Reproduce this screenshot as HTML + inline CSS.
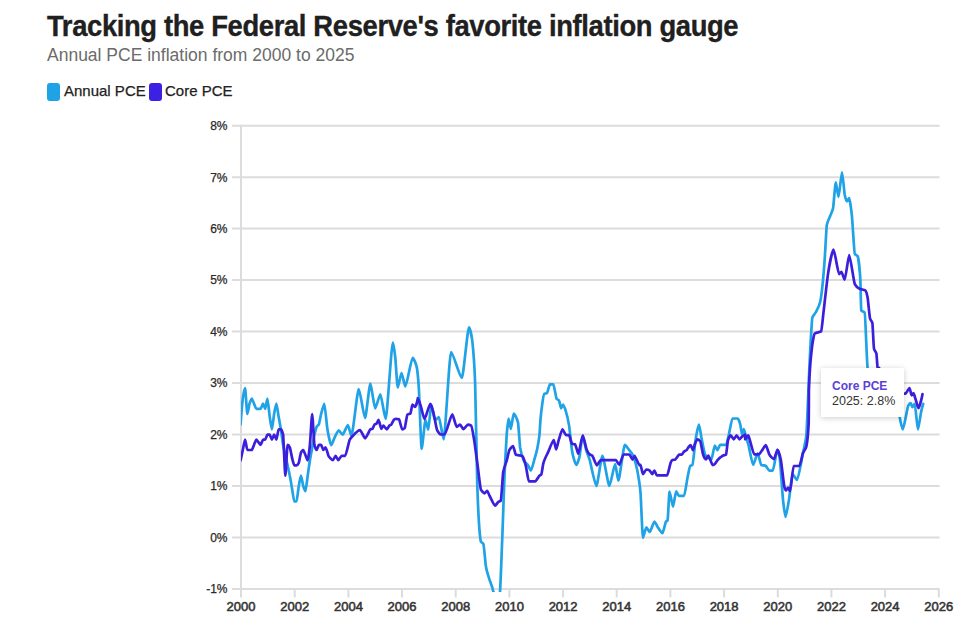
<!DOCTYPE html>
<html><head><meta charset="utf-8">
<style>
html,body{margin:0;padding:0;background:#fff;}
body{width:973px;height:626px;overflow:hidden;position:relative;font-family:"Liberation Sans",sans-serif;}
.title{position:absolute;left:47px;top:8.5px;font-size:29.5px;font-weight:bold;color:#202020;letter-spacing:-0.4px;-webkit-text-stroke:0.35px #202020;white-space:nowrap;transform:scaleX(0.929);transform-origin:0 0;}
.sub{position:absolute;left:47px;top:45px;font-size:17.5px;color:#6b6b6b;white-space:nowrap;}
.leg{position:absolute;top:82px;font-size:15px;color:#222;white-space:nowrap;-webkit-text-stroke:0.25px #222;}
.sw{position:absolute;top:83px;width:13px;height:18px;border-radius:3px;}
svg{position:absolute;left:0;top:0;}
.tip{position:absolute;left:821px;top:368px;width:83px;height:49px;background:#fff;box-shadow:0 1px 6px rgba(0,0,0,0.2);}
.tip .a{position:absolute;left:11px;top:11px;font-size:12px;font-weight:bold;color:#5b41d6;white-space:nowrap;}
.tip .b{position:absolute;left:11px;top:26px;font-size:12.5px;color:#333;white-space:nowrap;}
</style></head><body>
<div class="title">Tracking the Federal Reserve's favorite inflation gauge</div>
<div class="sub">Annual PCE inflation from 2000 to 2025</div>
<div class="sw" style="left:47px;background:#1fa2e6"></div>
<div class="leg" style="left:64px">Annual PCE</div>
<div class="sw" style="left:149px;background:#3c20e4"></div>
<div class="leg" style="left:165px">Core PCE</div>
<svg width="973" height="626" viewBox="0 0 973 626">
<g stroke="#dcdcdc" stroke-width="2" fill="none">
<line x1="232" x2="939.5" y1="589.0" y2="589.0"/>
<line x1="232" x2="939.5" y1="537.5" y2="537.5"/>
<line x1="232" x2="939.5" y1="486.0" y2="486.0"/>
<line x1="232" x2="939.5" y1="434.6" y2="434.6"/>
<line x1="232" x2="939.5" y1="383.1" y2="383.1"/>
<line x1="232" x2="939.5" y1="331.6" y2="331.6"/>
<line x1="232" x2="939.5" y1="280.1" y2="280.1"/>
<line x1="232" x2="939.5" y1="228.6" y2="228.6"/>
<line x1="232" x2="939.5" y1="177.2" y2="177.2"/>
<line x1="232" x2="939.5" y1="125.7" y2="125.7"/>
<line x1="241" x2="241" y1="124.7" y2="597.5"/>
<line x1="294.7" x2="294.7" y1="589.0" y2="597.5"/>
<line x1="348.4" x2="348.4" y1="589.0" y2="597.5"/>
<line x1="402.0" x2="402.0" y1="589.0" y2="597.5"/>
<line x1="455.7" x2="455.7" y1="589.0" y2="597.5"/>
<line x1="509.4" x2="509.4" y1="589.0" y2="597.5"/>
<line x1="563.1" x2="563.1" y1="589.0" y2="597.5"/>
<line x1="616.7" x2="616.7" y1="589.0" y2="597.5"/>
<line x1="670.4" x2="670.4" y1="589.0" y2="597.5"/>
<line x1="724.1" x2="724.1" y1="589.0" y2="597.5"/>
<line x1="777.8" x2="777.8" y1="589.0" y2="597.5"/>
<line x1="831.4" x2="831.4" y1="589.0" y2="597.5"/>
<line x1="885.1" x2="885.1" y1="589.0" y2="597.5"/>
<line x1="938.8" x2="938.8" y1="589.0" y2="597.5"/>
</g>
<g font-family="Liberation Sans" font-size="12" fill="#2a2a2a" stroke="#2a2a2a" stroke-width="0.25">
<text x="227.5" y="593.3" text-anchor="end">-1%</text>
<text x="227.5" y="541.8" text-anchor="end">0%</text>
<text x="227.5" y="490.3" text-anchor="end">1%</text>
<text x="227.5" y="438.9" text-anchor="end">2%</text>
<text x="227.5" y="387.4" text-anchor="end">3%</text>
<text x="227.5" y="335.9" text-anchor="end">4%</text>
<text x="227.5" y="284.4" text-anchor="end">5%</text>
<text x="227.5" y="232.9" text-anchor="end">6%</text>
<text x="227.5" y="181.5" text-anchor="end">7%</text>
<text x="227.5" y="130.0" text-anchor="end">8%</text>
<text x="241.0" y="611" text-anchor="middle" font-size="13" fill="#333" stroke="#333" stroke-width="0.55">2000</text>
<text x="294.7" y="611" text-anchor="middle" font-size="13" fill="#333" stroke="#333" stroke-width="0.55">2002</text>
<text x="348.4" y="611" text-anchor="middle" font-size="13" fill="#333" stroke="#333" stroke-width="0.55">2004</text>
<text x="402.0" y="611" text-anchor="middle" font-size="13" fill="#333" stroke="#333" stroke-width="0.55">2006</text>
<text x="455.7" y="611" text-anchor="middle" font-size="13" fill="#333" stroke="#333" stroke-width="0.55">2008</text>
<text x="509.4" y="611" text-anchor="middle" font-size="13" fill="#333" stroke="#333" stroke-width="0.55">2010</text>
<text x="563.1" y="611" text-anchor="middle" font-size="13" fill="#333" stroke="#333" stroke-width="0.55">2012</text>
<text x="616.7" y="611" text-anchor="middle" font-size="13" fill="#333" stroke="#333" stroke-width="0.55">2014</text>
<text x="670.4" y="611" text-anchor="middle" font-size="13" fill="#333" stroke="#333" stroke-width="0.55">2016</text>
<text x="724.1" y="611" text-anchor="middle" font-size="13" fill="#333" stroke="#333" stroke-width="0.55">2018</text>
<text x="777.8" y="611" text-anchor="middle" font-size="13" fill="#333" stroke="#333" stroke-width="0.55">2020</text>
<text x="831.4" y="611" text-anchor="middle" font-size="13" fill="#333" stroke="#333" stroke-width="0.55">2022</text>
<text x="885.1" y="611" text-anchor="middle" font-size="13" fill="#333" stroke="#333" stroke-width="0.55">2024</text>
<text x="938.8" y="611" text-anchor="middle" font-size="13" fill="#333" stroke="#333" stroke-width="0.55">2026</text>
</g>
<defs><clipPath id="cp"><rect x="241" y="100" width="700" height="492"/></clipPath></defs>
<g fill="none" stroke-width="2.7" stroke-linejoin="round" stroke-linecap="round" clip-path="url(#cp)">
<path stroke="#1fa2e6" d="M240.6,424.3C241.0,418.3 242.4,402.1 242.8,398.5C243.3,394.9 244.6,388.2 245.1,388.2C245.5,388.2 246.9,414.0 247.3,414.0C247.8,414.0 249.1,405.2 249.5,403.7C250.0,402.1 251.3,398.5 251.8,398.5C252.2,398.5 253.6,402.6 254.0,403.7C254.5,404.7 255.8,408.8 256.3,408.8C256.7,408.8 258.0,408.8 258.5,408.8C258.9,408.8 260.3,408.8 260.7,408.8C261.2,408.8 262.5,403.7 263.0,403.7C263.4,403.7 264.8,408.8 265.2,408.8C265.6,408.8 267.0,398.5 267.4,398.5C267.9,398.5 269.2,413.5 269.7,416.5C270.1,419.6 271.5,429.4 271.9,429.4C272.4,429.4 273.7,416.5 274.1,414.0C274.6,411.4 275.9,403.7 276.4,403.7C276.8,403.7 278.2,414.0 278.6,416.5C279.1,419.1 280.4,426.6 280.9,429.4C281.3,432.2 282.6,442.3 283.1,444.9C283.5,447.4 284.9,453.1 285.3,455.2C285.8,457.2 287.1,463.4 287.6,465.4C288.0,467.5 289.4,473.4 289.8,475.7C290.3,478.1 291.6,486.0 292.0,488.6C292.5,491.2 293.8,501.5 294.3,501.5C294.7,501.5 296.1,501.5 296.5,501.5C297.0,501.5 298.3,488.6 298.8,486.0C299.2,483.5 300.5,475.7 301.0,475.7C301.4,475.7 302.8,484.5 303.2,486.0C303.7,487.6 305.0,491.2 305.5,491.2C305.9,491.2 307.2,478.8 307.7,475.7C308.1,472.7 309.5,463.1 309.9,460.3C310.4,457.5 311.7,450.0 312.2,447.4C312.6,444.9 314.0,436.6 314.4,434.6C314.9,432.5 316.2,427.9 316.6,426.8C317.1,425.8 318.4,425.3 318.9,424.3C319.3,423.2 320.7,415.8 321.1,414.0C321.8,411.4 323.7,403.8 324.3,403.8C324.9,403.8 326.6,423.7 327.2,427.6C328.0,432.9 330.4,445.2 331.2,445.2C331.9,445.2 334.0,438.7 334.7,437.3C335.5,435.7 337.9,430.3 338.7,430.3C339.5,430.3 341.8,434.7 342.6,434.7C343.7,434.7 346.8,425.0 347.9,425.0C348.6,425.0 350.7,435.6 351.4,435.6C352.9,435.6 357.3,389.0 358.8,389.0C360.0,389.0 363.8,418.0 365.1,418.0C366.1,418.0 369.3,383.7 370.4,383.7C371.3,383.7 374.2,408.3 375.1,408.3C376.2,408.3 379.3,394.3 380.4,394.3C381.4,394.3 384.6,418.9 385.7,418.9C387.1,418.9 391.4,342.5 392.9,342.5C393.4,342.5 394.9,353.9 395.4,358.8C395.8,363.2 397.2,387.5 397.7,387.5C398.4,387.5 400.7,373.1 401.5,373.1C402.3,373.1 404.6,386.5 405.3,386.5C406.8,386.5 411.2,357.8 412.6,357.8C413.5,357.8 416.0,363.5 416.8,367.4C417.2,369.1 418.4,381.8 418.8,387.5C419.3,396.0 421.1,448.8 421.6,448.8C422.4,448.8 424.7,420.1 425.5,420.1C426.0,420.1 427.8,429.7 428.3,429.7C428.9,429.7 430.6,404.8 431.2,404.8C432.0,404.8 434.3,420.1 435.0,420.1C435.8,420.1 438.1,417.2 438.9,417.2C439.8,417.2 442.7,439.3 443.7,439.3C445.1,439.3 449.5,352.0 451.0,352.0C453.1,352.0 459.7,377.9 461.9,377.9C463.3,377.9 467.6,327.3 469.0,327.3C469.7,327.3 471.7,336.0 472.4,341.8C472.9,346.5 474.5,366.0 475.1,382.1C475.5,395.2 476.8,467.5 477.2,482.1C477.6,495.4 478.8,520.7 479.2,526.7C479.6,531.9 480.6,540.9 480.9,541.6C481.4,542.5 482.9,543.0 483.4,544.0C483.9,545.0 485.4,562.9 485.9,566.3C486.6,571.4 488.9,577.4 489.6,579.9C490.4,582.5 492.6,587.0 493.3,591.6C493.8,594.4 495.1,609.6 495.6,609.6C496.0,609.6 497.4,606.2 497.8,604.4C498.2,602.6 499.6,596.7 500.0,591.6C500.5,586.4 501.8,549.1 502.3,537.5C502.7,525.9 504.1,486.0 504.5,475.7C505.0,465.4 506.3,440.4 506.7,434.6C507.1,429.7 508.3,418.7 508.6,418.7C509.1,418.7 510.4,428.8 510.8,428.8C511.4,428.8 513.1,413.7 513.7,413.7C514.5,413.7 517.1,418.8 518.0,422.3C518.4,424.0 519.7,444.4 520.1,447.5C520.9,452.7 523.0,458.8 523.7,460.4C524.6,462.4 527.2,464.2 528.1,465.5C528.6,466.3 530.4,470.5 530.9,470.5C531.7,470.5 533.8,461.5 534.5,459.0C535.1,457.1 536.7,451.5 537.3,448.6C537.7,446.1 539.1,439.3 539.6,433.3C539.7,431.3 540.2,423.9 540.3,421.8C541.1,411.0 543.4,394.5 544.2,394.0C544.7,393.6 546.5,393.4 547.0,393.0C547.6,392.6 549.3,384.4 549.9,384.4C550.6,384.4 552.7,384.4 553.4,384.4C554.0,384.4 556.0,397.7 556.6,398.8C557.1,399.5 558.6,399.9 559.1,400.7C559.5,401.3 560.7,408.3 561.0,408.3C561.4,408.3 562.6,404.5 563.0,404.5C563.4,404.5 564.8,408.0 565.3,409.3C566.0,411.5 568.3,420.4 569.1,425.6C569.7,429.5 571.4,446.8 572.0,450.5C572.8,456.3 575.5,464.9 576.4,464.9C577.0,464.9 579.0,459.5 579.6,456.3C580.2,453.4 581.9,436.1 582.5,436.1C583.3,436.1 585.6,448.2 586.4,450.7C587.0,452.8 589.0,457.6 589.6,459.6C590.9,463.9 595.0,485.9 596.4,485.9C597.6,485.9 601.2,455.8 602.4,455.8C603.8,455.8 608.0,485.9 609.4,485.9C610.6,485.9 614.0,464.1 615.2,464.1C615.8,464.1 617.7,480.7 618.4,480.7C619.6,480.7 623.5,444.9 624.8,444.9C625.6,444.9 628.1,448.7 629.0,449.8C629.7,450.7 631.7,452.9 632.4,454.4C633.4,456.4 636.1,464.7 637.1,469.5C637.8,473.1 639.8,483.4 640.5,492.7C641.0,498.8 642.4,537.8 642.9,537.8C643.5,537.8 645.6,527.4 646.3,527.4C647.0,527.4 649.1,532.0 649.8,532.0C650.7,532.0 653.5,521.6 654.4,521.6C655.1,521.6 657.2,526.4 657.9,527.4C658.8,528.8 661.6,533.2 662.5,533.2C663.2,533.2 665.3,522.6 666.0,521.6C666.3,521.1 667.3,520.9 667.6,520.5C668.0,519.9 669.1,491.5 669.5,491.5C670.2,491.5 672.3,506.6 673.0,506.6C673.6,506.6 675.5,491.4 676.2,491.4C676.7,491.4 678.3,495.8 678.8,495.8C679.8,495.8 683.0,495.8 684.1,495.8C684.8,495.8 686.9,480.6 687.6,477.3C688.1,474.8 689.7,466.3 690.2,465.9C690.7,465.5 692.0,465.4 692.5,465.0C693.1,464.6 694.9,444.3 695.5,440.4C696.2,435.8 698.3,424.6 699.0,424.6C699.5,424.6 701.1,436.0 701.6,438.7C702.3,442.2 704.4,453.1 705.1,454.5C705.8,455.9 708.0,457.4 708.7,458.0C709.2,458.4 710.8,459.7 711.3,459.7C712.0,459.7 714.1,445.7 714.8,445.7C715.3,445.7 716.9,450.1 717.4,450.1C718.0,450.1 719.6,444.8 720.1,444.8C721.3,444.8 725.0,444.8 726.2,444.8C726.8,444.8 728.3,436.5 728.9,434.3C729.6,431.3 731.7,418.5 732.4,418.5C733.4,418.5 736.6,418.5 737.7,418.5C738.2,418.5 739.8,422.4 740.3,424.6C740.6,426.1 741.7,434.3 742.0,434.3C742.4,434.3 743.4,429.0 743.8,429.0C744.3,429.0 745.9,435.9 746.4,437.8C746.8,439.2 748.1,443.6 748.5,445.2C749.4,448.7 752.2,464.9 753.1,464.9C754.0,464.9 756.8,453.3 757.7,453.3C758.4,453.3 760.5,464.5 761.2,464.9C762.1,465.3 764.9,465.6 765.8,466.0C766.5,466.4 768.6,470.7 769.3,470.7C770.0,470.7 772.1,470.7 772.8,470.7C773.7,470.7 776.5,449.8 777.4,449.8C777.9,449.8 779.3,454.7 779.7,457.9C780.4,462.8 782.5,495.7 783.2,501.9C783.7,506.1 785.1,517.0 785.5,517.0C786.2,517.0 788.3,503.9 789.0,499.6C789.7,495.3 791.8,474.1 792.5,474.1C793.4,474.1 796.2,479.9 797.1,479.9C798.3,479.9 801.8,459.1 802.9,453.3C803.6,449.8 805.7,442.2 806.4,434.7C807.0,428.3 808.8,379.6 809.4,367.1C809.6,362.5 810.3,348.8 810.5,344.7C810.9,338.3 811.9,319.1 812.3,317.9C813.0,315.7 815.0,313.6 815.7,312.4C816.6,310.7 819.2,306.3 820.1,302.3C821.0,298.3 823.7,273.0 824.6,260.6C825.1,254.5 826.4,227.2 826.8,224.9C827.5,221.3 829.5,217.7 830.2,215.9C830.8,214.4 832.5,211.2 833.1,208.1C833.6,205.2 835.2,182.4 835.8,182.4C836.3,182.4 837.9,196.9 838.5,196.9C839.2,196.9 841.3,172.3 842.0,172.3C842.6,172.3 844.2,191.8 844.7,194.7C845.2,197.1 846.5,201.4 847.0,201.4C847.4,201.4 848.8,198.0 849.2,198.0C849.7,198.0 851.4,210.7 851.9,215.9C852.5,221.6 854.2,253.0 854.8,253.9C855.4,254.8 857.1,255.3 857.7,256.2C858.2,257.0 859.8,270.5 860.4,280.0C860.5,282.8 861.0,310.1 861.2,310.4C861.9,311.3 864.0,311.8 864.7,312.7C865.3,313.5 867.0,365.6 867.6,367.9C869.7,376.0 875.9,380.1 878.0,388.2C878.5,390.0 879.8,397.0 880.2,398.5C880.7,400.1 882.0,402.6 882.5,403.7C882.9,404.7 884.3,408.8 884.7,408.8C885.2,408.8 886.5,408.8 887.0,408.8C887.4,408.8 888.7,398.5 889.2,398.5C889.6,398.5 891.0,398.5 891.4,398.5C891.9,398.5 893.2,402.6 893.7,403.7C894.1,404.7 895.5,408.8 895.9,408.8C896.4,408.8 897.7,408.8 898.1,408.8C898.4,408.8 899.3,415.2 899.6,416.7C900.2,419.9 902.1,429.5 902.7,429.5C903.9,429.5 907.2,407.7 908.3,405.5C908.8,404.5 910.3,403.1 910.7,403.1C911.1,403.1 912.0,407.1 912.3,407.1C912.8,407.1 914.2,403.9 914.7,403.9C915.4,403.9 917.3,429.5 917.9,429.5C918.6,429.5 920.5,414.8 921.1,411.9C921.5,410.0 922.8,405.4 923.2,403.9"/>
<path stroke="#3b1fdc" d="M240.6,460.3C241.0,458.2 242.4,452.1 242.8,450.0C243.3,447.9 244.6,439.7 245.1,439.7C245.5,439.7 246.9,450.0 247.3,450.0C247.8,450.0 249.1,450.0 249.5,450.0C250.0,450.0 251.3,450.0 251.8,450.0C252.2,450.0 253.6,445.9 254.0,444.9C254.5,443.8 255.8,439.7 256.3,439.7C256.7,439.7 258.0,441.8 258.5,442.3C258.9,442.8 260.3,444.9 260.7,444.9C261.2,444.9 262.5,439.7 263.0,439.7C263.4,439.7 264.8,439.7 265.2,439.7C265.6,439.7 267.0,434.6 267.4,434.6C267.9,434.6 269.2,434.6 269.7,434.6C270.1,434.6 271.5,439.7 271.9,439.7C272.4,439.7 273.7,434.6 274.1,434.6C274.6,434.6 275.9,439.7 276.4,439.7C276.8,439.7 278.2,429.4 278.6,429.4C279.1,429.4 280.4,429.4 280.9,429.4C281.3,429.4 282.6,432.5 283.1,434.6C283.5,436.6 284.9,475.7 285.3,475.7C285.8,475.7 287.1,444.9 287.6,444.9C288.0,444.9 289.4,446.4 289.8,447.4C290.3,448.5 291.6,455.9 292.0,457.7C292.5,459.5 293.8,465.4 294.3,465.4C294.7,465.4 296.1,465.4 296.5,465.4C297.0,465.4 298.3,463.9 298.8,462.9C299.2,461.8 300.5,453.6 301.0,452.6C301.4,451.5 302.8,450.0 303.2,450.0C303.7,450.0 305.0,454.1 305.5,455.2C305.9,456.2 307.2,460.3 307.7,460.3C308.1,460.3 309.5,449.5 309.9,444.9C310.4,440.2 311.7,414.0 312.2,414.0C312.6,414.0 314.0,442.8 314.4,444.9C314.9,446.9 316.2,450.0 316.6,450.0C317.1,450.0 318.4,444.9 318.9,444.9C319.3,444.9 320.7,444.9 321.1,444.9C321.6,444.9 322.9,450.0 323.4,450.0C323.8,450.0 325.1,447.4 325.6,447.4C326.2,447.4 328.0,454.6 328.5,455.8C329.4,457.5 332.1,460.2 332.9,460.2C333.5,460.2 335.0,455.8 335.6,455.8C336.1,455.8 337.7,460.2 338.2,460.2C338.9,460.2 341.0,455.8 341.7,455.8C342.4,455.8 344.5,455.8 345.2,455.8C346.1,455.8 348.8,442.0 349.6,440.0C350.3,438.3 352.4,436.3 353.1,435.6C354.4,434.2 358.1,430.8 359.3,430.3C359.4,430.2 359.9,430.0 360.0,430.0C361.0,430.0 364.1,438.3 365.1,438.3C365.8,438.3 367.7,434.4 368.3,433.2C368.7,432.5 369.8,429.6 370.2,429.4C370.7,429.1 372.0,429.0 372.5,428.8C372.9,428.5 374.2,424.6 374.7,424.3C375.1,424.0 376.2,423.9 376.6,423.6C377.0,423.4 378.1,419.8 378.5,419.8C379.1,419.8 380.8,428.8 381.4,428.8C381.8,428.8 382.9,425.6 383.3,425.6C384.0,425.6 386.1,429.4 386.8,429.4C387.3,429.4 388.9,426.0 389.4,425.6C389.8,425.2 390.9,425.0 391.3,424.6C391.8,424.1 393.4,420.3 393.9,419.8C394.2,419.4 395.4,418.8 395.8,418.8C396.4,418.8 398.3,419.0 399.0,419.2C399.6,419.3 401.5,429.4 402.2,429.4C402.7,429.4 404.2,428.6 404.7,428.1C405.2,427.6 406.8,415.1 407.3,414.7C407.9,414.2 409.8,413.9 410.5,413.4C410.9,413.1 412.0,404.5 412.4,404.5C412.9,404.5 414.4,407.0 415.0,407.0C415.5,407.0 417.0,402.8 417.5,400.0C417.6,399.7 417.7,398.0 417.8,398.0C418.4,398.0 420.1,404.0 420.7,405.7C421.4,408.0 423.7,419.1 424.5,419.1C425.7,419.1 429.1,403.8 430.3,403.8C430.8,403.8 432.6,409.4 433.1,411.5C433.9,414.2 436.2,427.8 437.0,429.7C437.7,431.6 440.0,434.5 440.8,434.5C441.6,434.5 443.9,434.5 444.6,434.5C446.2,434.5 450.8,414.3 452.3,414.3C453.2,414.3 455.8,426.8 456.7,426.8C457.4,426.8 459.4,424.6 460.1,424.6C460.7,424.6 462.7,429.1 463.4,429.1C464.3,429.1 467.0,424.6 467.9,424.6C468.6,424.6 470.6,425.3 471.2,425.7C471.8,426.1 473.6,436.7 474.2,440.3C474.8,444.0 476.6,457.9 477.2,462.3C478.0,467.7 480.2,488.1 480.9,489.6C481.7,491.1 483.9,493.3 484.7,493.3C485.2,493.3 486.6,490.8 487.1,490.8C487.6,490.8 489.1,494.8 489.6,495.8C490.7,497.9 494.0,505.7 495.1,505.7C495.7,505.7 497.6,502.4 498.3,501.9C498.8,501.6 500.3,501.2 500.8,500.7C501.3,500.2 502.7,475.5 503.2,472.2C504.0,467.3 506.2,462.6 506.9,459.9C507.4,458.0 508.9,450.9 509.4,450.0C510.2,448.5 512.4,446.2 513.1,446.2C513.7,446.2 515.3,454.5 515.8,454.7C516.5,455.0 518.7,455.2 519.4,455.4C520.0,455.5 521.7,455.8 522.3,456.1C523.0,456.5 525.2,463.2 525.9,466.2C526.5,468.6 528.2,481.3 528.8,481.3C530.1,481.3 534.0,481.3 535.3,481.3C536.1,481.3 538.7,476.3 539.6,475.5C539.9,475.3 540.9,474.9 541.3,474.5C541.7,474.0 542.8,465.7 543.2,463.9C544.2,459.5 547.0,454.6 548.0,452.4C549.2,449.8 552.6,440.0 553.8,440.0C554.2,440.0 555.6,449.5 556.1,449.5C556.6,449.5 558.0,442.6 558.5,440.9C559.3,438.4 561.6,429.4 562.4,429.4C563.1,429.4 565.4,435.2 566.2,435.2C566.8,435.2 568.5,435.2 569.1,435.2C569.7,435.2 571.4,443.6 572.0,443.8C572.6,444.0 574.5,444.1 575.1,444.3C575.7,444.5 577.7,453.8 578.3,453.8C579.2,453.8 581.9,435.3 582.8,435.3C583.5,435.3 585.8,447.4 586.6,449.4C587.2,451.0 589.2,453.9 589.8,454.5C590.3,455.0 591.8,455.2 592.3,455.8C593.2,456.7 595.9,465.3 596.8,465.3C597.6,465.3 599.9,460.2 600.7,460.2C603.7,460.2 612.9,460.2 616.0,460.2C616.6,460.2 618.5,464.7 619.2,464.7C620.1,464.7 622.7,454.5 623.6,454.5C624.8,454.5 628.2,454.5 629.4,454.5C630.0,454.5 631.9,459.6 632.6,459.6C633.0,459.6 634.1,455.8 634.5,455.8C635.5,455.8 638.6,465.3 639.6,465.3C639.8,465.3 640.4,464.9 640.5,464.9C641.0,464.9 642.4,474.1 642.9,474.1C643.5,474.1 645.6,469.5 646.3,469.5C647.0,469.5 649.1,470.2 649.8,470.7C650.3,471.0 651.7,474.1 652.1,474.1C652.6,474.1 654.0,470.7 654.4,470.7C654.9,470.7 656.3,475.3 656.8,475.3C658.8,475.3 665.1,475.3 667.2,475.3C667.8,475.3 669.9,464.9 670.5,463.2C670.8,462.5 671.6,460.5 671.9,460.3C672.6,459.9 674.6,459.7 675.3,459.4C675.8,459.1 677.2,457.1 677.6,456.5C677.9,456.1 678.8,454.6 679.1,454.6C679.7,454.6 681.4,454.6 682.0,454.6C682.4,454.6 683.6,452.2 683.9,451.7C684.5,451.0 686.2,450.5 686.8,449.8C687.2,449.3 688.3,447.4 688.7,446.9C689.1,446.4 690.3,445.0 690.6,445.0C691.1,445.0 692.5,450.2 692.9,450.2C693.3,450.2 694.5,445.1 694.9,444.0C695.4,442.7 696.8,439.3 697.3,439.3C697.9,439.3 699.6,440.4 700.2,441.2C700.8,441.9 702.5,452.8 703.1,454.6C703.7,456.4 705.4,459.4 706.0,459.4C706.4,459.4 707.8,455.5 708.3,455.5C709.1,455.5 711.8,465.1 712.7,465.1C713.2,465.1 715.0,463.9 715.5,463.2C715.9,462.7 717.1,460.8 717.4,460.3C718.0,459.6 719.7,457.9 720.3,457.4C720.9,457.0 722.6,455.8 723.2,455.5C723.8,455.2 725.5,455.0 726.1,454.6C726.4,454.3 727.6,441.5 728.0,440.2C728.6,438.3 730.3,435.4 730.9,435.4C731.4,435.4 733.2,439.3 733.7,439.3C734.3,439.3 736.0,435.4 736.6,435.4C737.2,435.4 738.9,439.3 739.5,439.3C740.0,439.3 741.8,436.8 742.3,436.4C742.9,436.0 744.5,434.7 745.0,434.7C745.0,434.7 745.2,439.3 745.2,439.3C745.8,439.3 747.5,435.4 748.1,435.4C748.2,435.4 748.4,435.8 748.5,435.9C749.6,437.5 753.1,454.4 754.3,454.4C755.2,454.4 758.0,454.4 758.9,454.4C759.6,454.4 761.7,450.7 762.4,449.8C763.1,448.9 765.2,445.2 765.8,445.2C766.5,445.2 768.6,453.1 769.3,454.4C770.2,456.2 773.0,459.1 774.0,459.1C774.7,459.1 776.7,449.8 777.4,449.8C778.1,449.8 780.2,456.5 780.9,460.2C781.6,463.9 783.7,484.2 784.4,486.9C784.7,488.2 785.7,490.3 786.1,490.3C786.5,490.3 787.6,487.7 788.0,487.7C788.4,487.7 789.7,491.2 790.1,491.2C790.8,491.2 792.9,466.0 793.6,466.0C794.8,466.0 798.3,466.0 799.4,466.0C800.1,466.0 802.2,455.2 802.9,453.3C803.6,451.3 805.7,449.1 806.4,446.3C806.8,444.5 808.2,432.4 808.7,423.2C808.8,422.2 808.9,392.7 808.9,390.6C809.2,381.2 809.8,371.0 810.1,367.1C810.5,359.4 811.9,348.1 812.3,344.7C812.8,341.4 814.1,333.8 814.5,333.6C815.9,332.7 819.9,332.2 821.2,331.4C821.7,331.1 823.0,316.2 823.5,312.4C824.4,304.7 827.1,280.1 828.0,274.1C829.1,266.6 832.4,249.5 833.5,249.5C834.7,249.5 838.0,274.1 839.1,274.1C839.6,274.1 840.9,271.8 841.4,271.8C842.0,271.8 844.1,279.7 844.7,279.7C845.6,279.7 848.3,255.1 849.2,255.1C850.3,255.1 853.7,281.9 854.8,284.1C855.7,285.9 858.4,288.1 859.3,288.6C860.5,289.3 864.0,289.7 865.2,290.4C865.7,290.7 867.1,294.8 867.6,297.6C868.1,300.4 869.5,316.4 870.0,318.3C870.4,320.3 871.9,321.2 872.4,323.1C872.7,324.4 873.6,347.4 874.0,348.7C874.4,350.6 875.9,351.6 876.4,353.5C876.7,354.8 877.7,372.8 878.0,372.8C878.3,372.8 879.2,367.9 879.6,367.9C879.7,367.9 880.1,383.1 880.2,383.1C880.7,383.1 882.0,383.1 882.5,383.1C882.9,383.1 884.3,388.2 884.7,388.2C885.2,388.2 886.5,383.1 887.0,383.1C887.4,383.1 888.7,386.7 889.2,388.2C889.6,389.8 891.0,398.5 891.4,398.5C891.9,398.5 893.2,398.5 893.7,398.5C894.1,398.5 895.5,398.5 895.9,398.5C896.4,398.5 897.7,393.4 898.1,393.4C898.6,393.4 899.9,393.4 900.4,393.4C901.4,393.4 904.4,393.7 905.4,393.7C906.2,393.7 908.7,388.0 909.5,388.0C910.0,388.0 911.2,395.3 911.6,395.3C912.0,395.3 913.1,393.2 913.5,393.2C914.0,393.2 915.3,398.5 915.8,399.9C916.3,401.5 917.9,408.2 918.4,408.2C919.2,408.2 921.7,398.4 922.5,394.2"/>
</g>
</svg>
<div class="tip"><div class="a">Core PCE</div><div class="b">2025: 2.8%</div></div>
</body></html>
